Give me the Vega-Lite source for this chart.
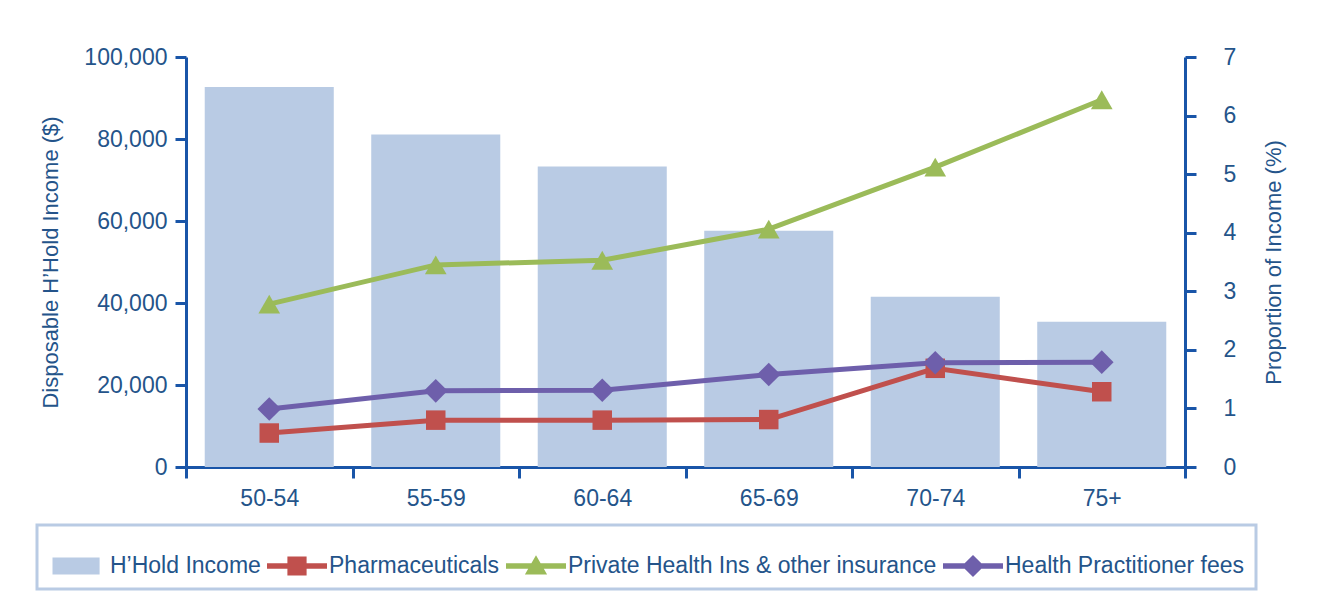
{
  "$schema": "https://vega.github.io/schema/vega-lite/v6.json",
  "autosize": {"type": "none"},
  "width": 999,
  "height": 410,
  "padding": {"left": 186, "top": 57, "right": 155, "bottom": 137},
  "background": "white",
  "config": {
    "view": {"stroke": null},
    "font": "Liberation Sans",
    "axis": {
      "labelFont": "Liberation Sans",
      "titleFont": "Liberation Sans",
      "labelFontSize": 23,
      "titleFontSize": 22,
      "titleFontWeight": "normal",
      "labelColor": "#24548a",
      "titleColor": "#24548a",
      "domainColor": "#1955a8",
      "tickColor": "#1955a8",
      "domainWidth": 3,
      "tickWidth": 3,
      "tickSize": 11,
      "grid": false
    }
  },
  "datasets": {
    "income": [
      {"age": "50-54", "series": "H’Hold Income", "income": 92700},
      {"age": "55-59", "series": "H’Hold Income", "income": 81100},
      {"age": "60-64", "series": "H’Hold Income", "income": 73300},
      {"age": "65-69", "series": "H’Hold Income", "income": 57600},
      {"age": "70-74", "series": "H’Hold Income", "income": 41500},
      {"age": "75+", "series": "H’Hold Income", "income": 35400}
    ],
    "shares": [
      {"age": "50-54", "series": "Pharmaceuticals", "pct": 0.58},
      {"age": "55-59", "series": "Pharmaceuticals", "pct": 0.80},
      {"age": "60-64", "series": "Pharmaceuticals", "pct": 0.80},
      {"age": "65-69", "series": "Pharmaceuticals", "pct": 0.81},
      {"age": "70-74", "series": "Pharmaceuticals", "pct": 1.685},
      {"age": "75+", "series": "Pharmaceuticals", "pct": 1.285},
      {"age": "50-54", "series": "Private Health Ins & other insurance", "pct": 2.78},
      {"age": "55-59", "series": "Private Health Ins & other insurance", "pct": 3.45},
      {"age": "60-64", "series": "Private Health Ins & other insurance", "pct": 3.53},
      {"age": "65-69", "series": "Private Health Ins & other insurance", "pct": 4.06},
      {"age": "70-74", "series": "Private Health Ins & other insurance", "pct": 5.12},
      {"age": "75+", "series": "Private Health Ins & other insurance", "pct": 6.27},
      {"age": "50-54", "series": "Health Practitioner fees", "pct": 0.99},
      {"age": "55-59", "series": "Health Practitioner fees", "pct": 1.30},
      {"age": "60-64", "series": "Health Practitioner fees", "pct": 1.31},
      {"age": "65-69", "series": "Health Practitioner fees", "pct": 1.58},
      {"age": "70-74", "series": "Health Practitioner fees", "pct": 1.78},
      {"age": "75+", "series": "Health Practitioner fees", "pct": 1.79}
    ]
  },
  "encoding": {
    "x": {
      "field": "age",
      "type": "nominal",
      "sort": null,
      "scale": {"paddingInner": 0, "paddingOuter": 0},
      "axis": {
        "title": null,
        "labelAngle": 0,
        "tickBand": "extent",
        "labelPadding": 9
      }
    }
  },
  "layer": [
    {
      "data": {"name": "income"},
      "mark": {"type": "bar", "width": {"band": 0.775}},
      "encoding": {
        "y": {
          "field": "income",
          "type": "quantitative",
          "scale": {"domain": [0, 100000]},
          "axis": {
            "title": "Disposable H’Hold Income ($)",
            "values": [0, 20000, 40000, 60000, 80000, 100000],
            "format": ",.0f",
            "labelPadding": 8,
            "titlePadding": 21
          }
        },
        "color": {
          "field": "series",
          "type": "nominal",
          "scale": {
            "domain": ["H’Hold Income", "Pharmaceuticals", "Private Health Ins & other insurance", "Health Practitioner fees"],
            "range": ["#b9cbe4", "#c0504d", "#9bbb59", "#6e5fab"]
          },
          "legend": {
            "orient": "none",
            "legendX": -149,
            "legendY": 468,
            "direction": "horizontal",
            "title": null,
            "symbolSize": 3600,
            "labelFont": "Liberation Sans",
            "labelFontSize": 23,
            "labelColor": "#24548a",
            "labelLimit": 0,
            "labelOffset": 2,
            "columnPadding": 6,
            "padding": 11,
            "strokeColor": "#b9cbe4",
            "fillColor": "white",
            "encode": {
              "legend": {"update": {"strokeWidth": {"value": 3}}},
              "symbols": {
                "update": {
                  "shape": {"signal": "datum.value === 'Pharmaceuticals' ? 'M-1,-0.09H1V0.09H-1Z M-0.32,-0.32H0.32V0.32H-0.32Z' : datum.value === 'Private Health Ins & other insurance' ? 'M-1,-0.09H1V0.09H-1Z M0,-0.36L0.37,0.28H-0.37Z' : datum.value === 'Health Practitioner fees' ? 'M-1,-0.09H1V0.09H-1Z M0,-0.37L0.37,0L0,0.37L-0.37,0Z' : 'M-0.85,-0.28H0.72V0.28H-0.85Z'"},
                  "fill": {"signal": "scale('color', datum.value)"},
                  "fillOpacity": {"value": 1},
                  "opacity": {"value": 1},
                  "stroke": {"value": "transparent"},
                  "strokeWidth": {"value": 0}
                }
              }
            }
          }
        }
      }
    },
    {
      "data": {"name": "shares"},
      "layer": [
        {
          "mark": {"type": "line", "strokeWidth": 5},
          "encoding": {
            "y": {
              "field": "pct",
              "type": "quantitative",
              "scale": {"domain": [0, 7]},
              "axis": {
                "orient": "right",
                "title": "Proportion of Income (%)",
                "values": [0, 1, 2, 3, 4, 5, 6, 7],
                "format": "d",
                "labelPadding": 27,
                "titleAngle": 270,
                "titleBaseline": "top",
                "titlePadding": 28
              }
            },
            "color": {"field": "series", "type": "nominal"}
          }
        },
        {
          "mark": {"type": "point", "filled": true, "opacity": 1},
          "encoding": {
            "y": {"field": "pct", "type": "quantitative"},
            "color": {"field": "series", "type": "nominal"},
            "shape": {
              "field": "series",
              "type": "nominal",
              "scale": {
                "domain": ["Pharmaceuticals", "Private Health Ins & other insurance", "Health Practitioner fees"],
                "range": ["square", "triangle-up", "diamond"]
              },
              "legend": null
            },
            "size": {
              "field": "series",
              "type": "nominal",
              "scale": {
                "domain": ["Pharmaceuticals", "Private Health Ins & other insurance", "Health Practitioner fees"],
                "range": [380, 560, 520]
              },
              "legend": null
            }
          }
        }
      ]
    }
  ],
  "resolve": {"scale": {"y": "independent"}}
}
